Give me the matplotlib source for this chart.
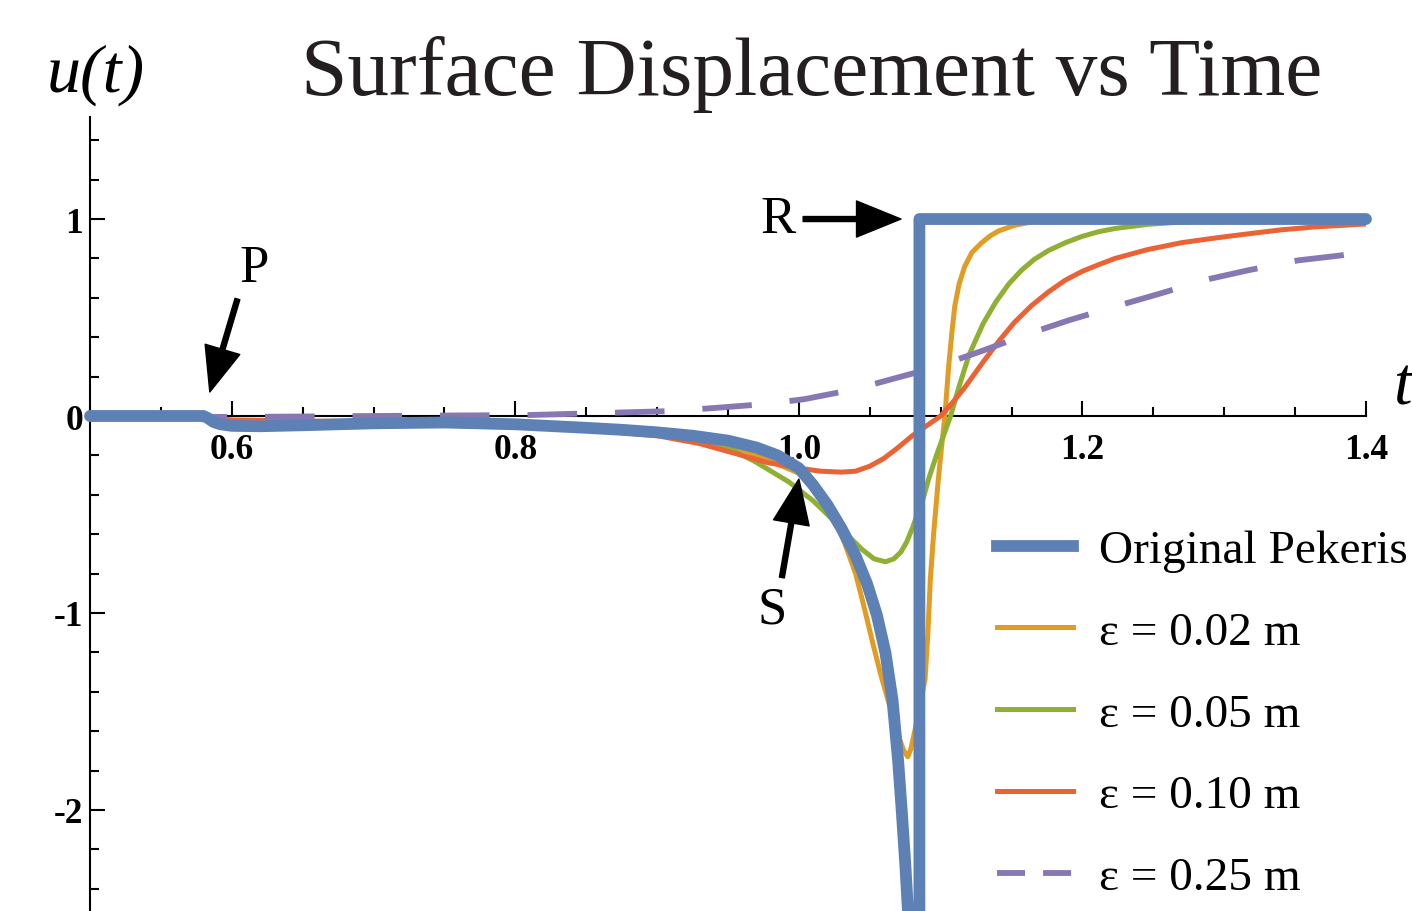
import numpy as np
import matplotlib
matplotlib.use("Agg")
import matplotlib.pyplot as plt
from matplotlib.ticker import MultipleLocator
from matplotlib.lines import Line2D

plt.rcParams['font.family'] = ['Liberation Serif', 'DejaVu Serif']

# values
t_pek = [0.50, 0.58, 0.583, 0.587, 0.592, 0.60, 0.62, 0.65, 0.70, 0.75, 0.80, 0.85, 0.875, 0.90, 0.925,
         0.95, 0.97, 0.985, 1.00, 1.01, 1.02, 1.03, 1.04, 1.048, 1.055, 1.061, 1.066, 1.070,
         1.0725, 1.075, 1.077, 1.0795, 1.081, 1.085, 1.085, 1.40]
u_pek = [0.0, 0.0, -0.01, -0.03, -0.042, -0.05, -0.052, -0.047, -0.037, -0.033, -0.042, -0.06, -0.07, -0.083, -0.10,
         -0.125, -0.16, -0.20, -0.265, -0.35, -0.45, -0.57, -0.71, -0.85, -1.01, -1.2, -1.44, -1.75,
         -2.0, -2.27, -2.52, -2.85, -3.2, -3.2, 1.0, 1.0]

t_e02 = [0.50, 0.58, 0.60, 0.70, 0.80, 0.90, 0.95, 0.97, 1.00, 1.01, 1.02, 1.03, 1.04, 1.046, 1.052,
         1.058, 1.064, 1.070, 1.074, 1.0768, 1.079, 1.082, 1.086, 1.089, 1.091, 1.0927, 1.095, 1.098,
         1.100, 1.103, 1.1056, 1.108, 1.110, 1.113, 1.117, 1.122, 1.129, 1.135, 1.141, 1.152, 1.164,
         1.18, 1.20, 1.40]
u_e02 = [0.0, 0.0, -0.04, -0.035, -0.042, -0.088, -0.14, -0.20, -0.29, -0.36, -0.46, -0.60, -0.80, -0.97, -1.15,
         -1.32, -1.47, -1.62, -1.70, -1.73, -1.69, -1.59, -1.45, -1.335, -1.1, -0.83, -0.6, -0.35,
         -0.2, 0.0, 0.25, 0.43, 0.56, 0.67, 0.76, 0.83, 0.88, 0.915, 0.94, 0.968, 0.985,
         0.995, 1.0, 1.0]

t_e05 = [0.50, 0.58, 0.60, 0.70, 0.80, 0.90, 0.95, 0.97, 0.993, 1.01, 1.023, 1.035, 1.045, 1.053, 1.061,
         1.067, 1.072, 1.076, 1.080, 1.084, 1.088, 1.0915, 1.097, 1.102, 1.107, 1.113, 1.12, 1.13,
         1.139, 1.148, 1.157, 1.166, 1.176, 1.188, 1.199, 1.211, 1.223, 1.246, 1.27, 1.30, 1.35, 1.40]
u_e05 = [0.0, 0.0, -0.04, -0.03, -0.045, -0.09, -0.16, -0.235, -0.335, -0.43, -0.52, -0.61, -0.68, -0.725, -0.74,
         -0.725, -0.69, -0.64, -0.57, -0.49, -0.41, -0.32, -0.2, -0.1, 0.0, 0.15, 0.31, 0.47,
         0.58, 0.67, 0.74, 0.795, 0.84, 0.88, 0.91, 0.935, 0.952, 0.973, 0.985, 0.993, 0.998, 1.0]

t_e10 = [0.50, 0.58, 0.60, 0.70, 0.80, 0.85, 0.90, 0.93, 0.955, 0.977, 1.00, 1.015, 1.03, 1.04, 1.05,
         1.06, 1.07, 1.08, 1.09, 1.10, 1.108, 1.117, 1.129, 1.141, 1.152, 1.164, 1.176, 1.188, 1.20,
         1.212, 1.223, 1.246, 1.27, 1.295, 1.317, 1.34, 1.364, 1.40]
u_e10 = [0.0, 0.0, -0.02, -0.03, -0.05, -0.07, -0.10, -0.14, -0.19, -0.235, -0.265, -0.28, -0.285, -0.28, -0.255,
         -0.215, -0.16, -0.10, -0.05, 0.0, 0.065, 0.145, 0.265, 0.38, 0.475, 0.56, 0.63, 0.69, 0.735,
         0.77, 0.80, 0.845, 0.88, 0.905, 0.925, 0.945, 0.96, 0.975]

t_e25 = [0.50, 0.60, 0.70, 0.81, 0.91, 0.939, 0.975, 1.0035, 1.039, 1.067, 1.085, 1.101, 1.129,
         1.163, 1.19, 1.225, 1.254, 1.289, 1.317, 1.352, 1.382, 1.40]
u_e25 = [0.0, -0.005, 0.0, 0.005, 0.025, 0.04, 0.06, 0.085, 0.135, 0.19, 0.225, 0.26, 0.33,
         0.42, 0.485, 0.56, 0.62, 0.695, 0.74, 0.79, 0.815, 0.835]

labels = ['Original Pekeris', 'ε = 0.02 m', 'ε = 0.05 m', 'ε = 0.10 m', 'ε = 0.25 m']
colors = ['#5E81B5', '#E19C24', '#8FB032', '#EB6235', '#8778B3']

W, H = 1412, 912
fig = plt.figure(figsize=(W / 100, H / 100), dpi=100)
ax = fig.add_axes([90 / W, 0, (1366 - 90) / W, 1 - 118 / H])
ax.set_xlim(0.5, 1.4)
ax.set_ylim(-2.513, 1.518)

style = dict(lw=3.6, zorder=3, solid_joinstyle='round', solid_capstyle='round')
ax.plot(t_e02, u_e02, color=colors[1], **style)
ax.plot(t_e05, u_e05, color=colors[2], **style)
ax.plot(t_e10, u_e10, color=colors[3], **style)
ax.plot(t_e25, u_e25, color=colors[4], lw=4.2, dashes=(8.5, 6.5), zorder=3)
ax.plot(t_pek, u_pek, color=colors[0], lw=8.5, zorder=4,
        solid_capstyle='round', solid_joinstyle='round', clip_on=False)

# axes in the "crossing" style
for s in ['top', 'right']:
    ax.spines[s].set_visible(False)
ax.spines['bottom'].set_position(('data', 0))
for s in ['bottom', 'left']:
    ax.spines[s].set_linewidth(1.5)
    ax.spines[s].set_zorder(2)

ax.xaxis.set_major_locator(MultipleLocator(0.2))
ax.xaxis.set_minor_locator(MultipleLocator(0.05))
ax.yaxis.set_major_locator(MultipleLocator(1))
ax.yaxis.set_minor_locator(MultipleLocator(0.2))
ax.tick_params(which='both', direction='in', width=1.5)
ax.tick_params(which='major', length=11)
ax.tick_params(which='minor', length=6.5)
ax.tick_params(axis='x', which='major', pad=12)
ax.tick_params(axis='y', which='major', pad=5)
ax.set_xticks([0.6, 0.8, 1.0, 1.2, 1.4])
ax.set_xticklabels(['0.6', '0.8', '1.0', '1.2', '1.4'])
ax.set_yticks([-2, -1, 0, 1])
ax.set_yticklabels(['-2', '-1', '0', '1'])
for lab in ax.get_xticklabels() + ax.get_yticklabels():
    lab.set_fontweight('bold')
    lab.set_fontsize(25.5)

# arrows marking P, S and R arrivals
arrow = dict(facecolor='black', edgecolor='black', width=3.6, headwidth=26, headlength=32, shrink=0)
ax.annotate('', xy=(0.5845, 0.122), xytext=(0.604, 0.594), arrowprops=arrow)
ax.text(0.616, 0.75, 'P', fontsize=38, ha='center', va='center')
ax.annotate('', xy=(1.0, -0.32), xytext=(0.988, -0.82), arrowprops=arrow)
ax.text(0.981, -0.98, 'S', fontsize=38, ha='center', va='center')
ax.annotate('', xy=(1.072, 1.0), xytext=(1.003, 1.0), arrowprops=arrow)
ax.text(0.985, 1.0, 'R', fontsize=38, ha='center', va='center')

fig.text(812 / W, 1 - 95 / H, 'Surface Displacement vs Time', fontsize=60,
         ha='center', va='baseline', color='#231f20')
fig.text(47 / W, 1 - 92 / H, 'u(t)', fontsize=49, style='italic', ha='left', va='baseline')
fig.text(1393 / W, 1 - 405 / H, 't', fontsize=48, style='italic', ha='left', va='baseline')

handles = [Line2D([], [], color=colors[0], lw=8.5),
           Line2D([], [], color=colors[1], lw=3.6),
           Line2D([], [], color=colors[2], lw=3.6),
           Line2D([], [], color=colors[3], lw=3.6),
           Line2D([], [], color=colors[4], lw=4.2, dashes=(4.8, 3.1))]
ax.legend(handles, labels, loc='upper left',
          bbox_to_anchor=(997 / W, 1 - 530 / H), bbox_transform=fig.transFigure,
          frameon=False, fontsize=34, handlelength=1.6, handletextpad=0.55,
          labelspacing=0.82, borderpad=0, borderaxespad=0)

fig.savefig('out.png', dpi=100)
